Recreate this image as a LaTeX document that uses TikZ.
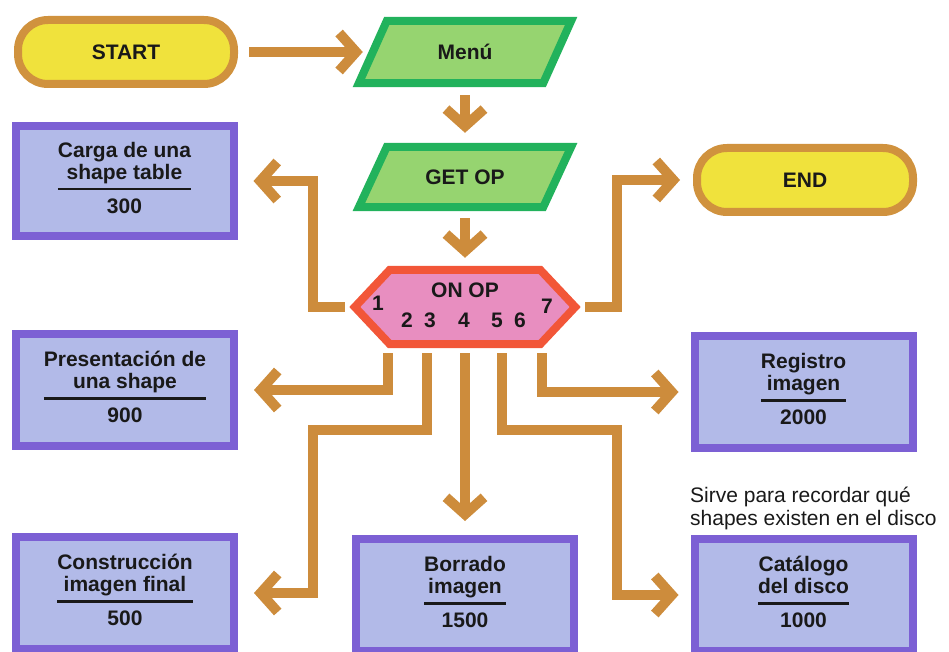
\documentclass[tikz,border=0pt]{standalone}
\usepackage{fontspec}
\setmainfont{Liberation Sans}
\usetikzlibrary{arrows.meta,calc}
\pgfdeclarelayer{bg}
\pgfsetlayers{bg,main}
\definecolor{conncol}{RGB}{205,140,60}
\definecolor{termfill}{RGB}{240,226,60}
\definecolor{termdraw}{RGB}{208,146,62}
\definecolor{iofill}{RGB}{150,212,112}
\definecolor{iodraw}{RGB}{34,178,92}
\definecolor{hexfill}{RGB}{232,142,192}
\definecolor{hexdraw}{RGB}{242,86,56}
\definecolor{procfill}{RGB}{178,186,232}
\definecolor{procdraw}{RGB}{124,96,212}
\definecolor{inkcol}{RGB}{25,25,25}
\newcommand{\lblfont}{\fontsize{21}{22}\selectfont\bfseries}
\newcommand{\notefont}{\fontsize{21}{23}\selectfont}
\newcommand{\proctext}[3]{\setlength{\tabcolsep}{0pt}\setlength{\arrayrulewidth}{2.2pt}%
  \begin{tabular}{c}#1\\#2\\[2.4pt]\hline\rule{0pt}{23pt}#3\end{tabular}}
\begin{document}
\begin{tikzpicture}[x=1pt,y=-1pt,
  conn/.style={draw=conncol, line width=10pt, line join=miter,
    -{Straight Barb[length=17pt,width=38pt]}},
  term/.style={draw=termdraw, fill=termfill, line width=8pt, rounded corners=30pt,
    minimum width=216pt, minimum height=64pt, inner sep=0pt, font=\lblfont, text=inkcol},
  frame/.style={inner sep=0pt, font=\lblfont, text=inkcol},
  iobox/.style={draw=iodraw, fill=iofill, line width=8pt, line join=miter},
  hexbox/.style={draw=hexdraw, fill=hexfill, line width=8pt, line join=miter},
  proc/.style={draw=procdraw, fill=procfill, line width=8pt,
    minimum width=218pt, minimum height=112pt, inner sep=0pt, font=\lblfont, text=inkcol},
  lbl/.style={inner sep=0pt, font=\lblfont, text=inkcol},
  note/.style={inner sep=0pt, font=\notefont, text=inkcol, align=left}]
\useasboundingbox (0,0) rectangle (949,652);

% terminals
\node[term] (start) at (126,52) {START};
\node[term] (end) at (805,180) {END};

% input/output parallelograms (frames)
\node[frame, minimum width=212pt, minimum height=62pt] (menu) at (465,52) {Menú};
\node[frame, minimum width=212pt, minimum height=60pt] (getop) at (465,177) {GET OP};
\begin{pgfonlayer}{bg}
\path[iobox] (menu.south west) -- ([xshift=-28pt]menu.south east) -- (menu.north east)
  -- ([xshift=28pt]menu.north west) -- cycle;
\path[iobox] (getop.south west) -- ([xshift=-28pt]getop.south east) -- (getop.north east)
  -- ([xshift=28pt]getop.north west) -- cycle;
\end{pgfonlayer}

% decision hexagon
\node[frame, minimum width=220pt, minimum height=74pt] (onop) at (465,307) {};
\begin{pgfonlayer}{bg}
\path[hexbox] (onop.west) -- ([xshift=35pt]onop.north west) -- ([xshift=-35pt]onop.north east)
  -- (onop.east) -- ([xshift=-35pt]onop.south east) -- ([xshift=35pt]onop.south west) -- cycle;
\end{pgfonlayer}
\node[lbl] (onoplbl) at (465,290) {ON OP};
\node[lbl] (n1) at (378,303) {1};
\node[lbl] (n2) at (407,320) {2};
\node[lbl] (n3) at (430,320) {3};
\node[lbl] (n4) at (464,320) {4};
\node[lbl] (n5) at (497,320) {5};
\node[lbl] (n6) at (520,320) {6};
\node[lbl] (n7) at (547,306) {7};

% process boxes
\node[proc, minimum height=110pt] (carga) at (124.5,181) {\proctext{Carga de una}{shape table}{300}};
\node[proc] (pres) at (125,390) {\proctext{Presentación de}{una shape}{900}};
\node[proc] (cons) at (125,593) {\proctext{Construcción}{imagen final}{500}};
\node[proc] (borr) at (465,595) {\proctext{Borrado}{imagen}{1500}};
\node[proc] (reg) at (803.5,392) {\proctext{Registro}{imagen}{2000}};
\node[proc] (cat) at (803.5,595) {\proctext{Catálogo}{del disco}{1000}};

% annotation
\node[note, anchor=north west] (nota) at (690,487) {Sirve para recordar qué\\shapes existen en el disco};

% connectors
\draw[conn] ([xshift=11pt]start.east) -- ([xshift=4pt]menu.west);
\draw[conn] ([yshift=-12pt]menu.south) -- ([yshift=14pt]getop.north);
\draw[conn] ([yshift=-11pt]getop.south) -- ([yshift=12pt]onop.north);
\draw[conn] ([xshift=-10pt]onop.west) -| (313,181) -- ([xshift=16pt]carga.east);
\draw[conn] ([xshift=10pt]onop.east) -| (617,180) -- ([xshift=-13pt]end.west);
\draw[conn] ([xshift=-77pt,yshift=-9pt]onop.south) |- ([xshift=16pt]pres.east);
\draw[conn] ([xshift=-38pt,yshift=-9pt]onop.south) |- (313,430) |- ([xshift=16pt]cons.east);
\draw[conn] ([yshift=-9pt]onop.south) -- ([yshift=14pt]borr.north);
\draw[conn] ([xshift=37pt,yshift=-9pt]onop.south) |- (617,430) |- ([xshift=-12pt]cat.west);
\draw[conn] ([xshift=77pt,yshift=-9pt]onop.south) |- ([xshift=-12pt]reg.west);
\end{tikzpicture}
\end{document}
